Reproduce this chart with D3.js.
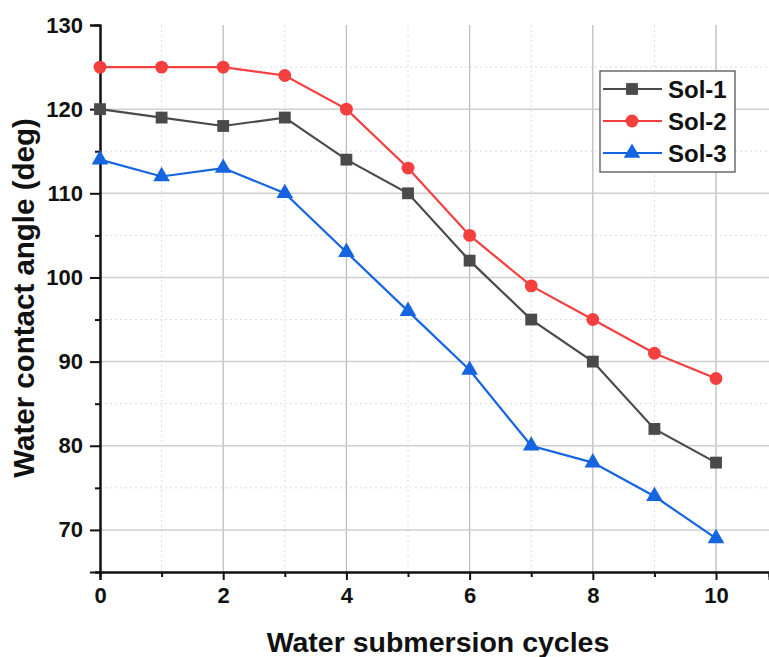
<!DOCTYPE html>
<html>
<head>
<meta charset="utf-8">
<script src="https://cdn.jsdelivr.net/npm/d3@7"></script>
<style>
  body { margin: 0; background: #fff; }
  #graph { width: 769px; height: 657px; }
</style>
</head>
<body>
<div id="graph"></div>
<script>
// data
const cycles = [0, 1, 2, 3, 4, 5, 6, 7, 8, 9, 10]
const sol1 = [120, 119, 118, 119, 114, 110, 102, 95, 90, 82, 78]
const sol2 = [125, 125, 125, 124, 120, 113, 105, 99, 95, 91, 88]
const sol3 = [114, 112, 113, 110, 103, 96, 89, 80, 78, 74, 69]
const seriesNames = ["Sol-1", "Sol-2", "Sol-3"]
const xTicks = [0, 2, 4, 6, 8, 10]
const yTicks = [70, 80, 90, 100, 110, 120, 130]

const width = 769, height = 657
const padLeft = 100, padRight = 769, padTop = 25, padBottom = 572
const fontFamily = '"Liberation Sans", Arial, sans-serif'

const svg = d3.select('#graph').append('svg')
  .attr('width', width).attr('height', height)

const xScale = d3.scaleLinear().domain([0, 10.86]).range([padLeft, padRight])
const yScale = d3.scaleLinear().domain([65, 130]).range([padBottom, padTop])

// minor grid (dotted)
const minorX = d3.range(1, 11, 2)
const minorY = d3.range(75, 130, 10)
svg.append('g').selectAll('line').data(minorX).enter().append('line')
  .attr('x1', d => xScale(d)).attr('x2', d => xScale(d))
  .attr('y1', padTop).attr('y2', padBottom)
  .attr('stroke', '#dcdcdc').attr('stroke-width', 1).attr('stroke-dasharray', '2,3')
svg.append('g').selectAll('line').data(minorY).enter().append('line')
  .attr('y1', d => yScale(d)).attr('y2', d => yScale(d))
  .attr('x1', padLeft).attr('x2', padRight)
  .attr('stroke', '#dcdcdc').attr('stroke-width', 1).attr('stroke-dasharray', '2,3')

// major grid
svg.append('g').selectAll('line').data(xTicks.slice(1)).enter().append('line')
  .attr('x1', d => xScale(d)).attr('x2', d => xScale(d))
  .attr('y1', padTop).attr('y2', padBottom)
  .attr('stroke', '#bdbdbd').attr('stroke-width', 1.3)
svg.append('g').selectAll('line').data(yTicks.slice(0, -1)).enter().append('line')
  .attr('y1', d => yScale(d)).attr('y2', d => yScale(d))
  .attr('x1', padLeft).attr('x2', padRight)
  .attr('stroke', '#cfcfcf').attr('stroke-width', 1.5)

// axes
const xAxis = d3.axisBottom(xScale).tickValues(xTicks).tickSize(8).tickPadding(7).tickFormat(d3.format('d'))
const xMinor = d3.axisBottom(xScale).tickValues(minorX).tickSize(5).tickFormat('')
const yAxis = d3.axisLeft(yScale).tickValues(yTicks).tickSize(10).tickPadding(7).tickFormat(d3.format('d'))
const yMinor = d3.axisLeft(yScale).tickValues(d3.range(65, 130, 10)).tickSize(5).tickFormat('')

function styleAxis(g) {
  g.attr('font-family', fontFamily).attr('font-size', 22).attr('font-weight', 'bold')
  g.select('.domain').attr('stroke', '#111').attr('stroke-width', 2)
  g.selectAll('.tick line').attr('stroke', '#111').attr('stroke-width', 2)
  g.selectAll('.tick text').attr('fill', '#111')
}

svg.append('g').attr('transform', `translate(0,${padBottom})`).call(xMinor).call(styleAxis)
svg.append('g').attr('transform', `translate(0,${padBottom})`).call(xAxis).call(styleAxis)
svg.append('g').attr('transform', `translate(${padLeft},0)`).call(yMinor).call(styleAxis)
svg.append('g').attr('transform', `translate(${padLeft},0)`).call(yAxis).call(styleAxis)

// series
const series = [
  { name: seriesNames[0], values: sol1, color: '#4a4a4a', symbol: d3.symbolSquare, size: 140 },
  { name: seriesNames[1], values: sol2, color: '#f43f3f', symbol: d3.symbolCircle, size: 130 },
  { name: seriesNames[2], values: sol3, color: '#1565e0', symbol: d3.symbolTriangle, size: 120 }
]

const line = d3.line().x(d => xScale(d[0])).y(d => yScale(d[1]))

series.forEach(s => {
  const pts = cycles.map((c, i) => [c, s.values[i]])
  svg.append('path').datum(pts)
    .attr('d', line).attr('fill', 'none')
    .attr('stroke', s.color).attr('stroke-width', 2.2)
  svg.append('g').selectAll('path').data(pts).enter().append('path')
    .attr('d', d3.symbol().type(s.symbol).size(s.size))
    .attr('transform', d => `translate(${xScale(d[0])},${yScale(d[1])})`)
    .attr('fill', s.color)
})

// legend
const legend = svg.append('g').attr('transform', 'translate(600,71)')
legend.append('rect').attr('width', 135).attr('height', 101)
  .attr('fill', '#fff').attr('stroke', '#555').attr('stroke-width', 1.3)
series.forEach((s, i) => {
  const y = 18 + i * 32
  legend.append('line').attr('x1', 3).attr('x2', 62).attr('y1', y).attr('y2', y)
    .attr('stroke', s.color).attr('stroke-width', 2.2)
  legend.append('path').attr('d', d3.symbol().type(s.symbol).size(s.size))
    .attr('transform', `translate(32,${y})`).attr('fill', s.color)
  legend.append('text').attr('x', 68).attr('y', y + 9)
    .attr('font-family', fontFamily).attr('font-weight', 'bold').attr('fill', '#111')
    .attr('font-size', 24).text(s.name)
})

// axis titles
svg.append('text')
  .attr('font-family', fontFamily).attr('font-weight', 'bold').attr('fill', '#111')
  .attr('text-anchor', 'middle').attr('font-size', 28.5)
  .attr('x', 438).attr('y', 652)
  .text('Water submersion cycles')

svg.append('text')
  .attr('font-family', fontFamily).attr('font-weight', 'bold').attr('fill', '#111')
  .attr('text-anchor', 'middle').attr('font-size', 29.5)
  .attr('transform', `translate(34,298) rotate(-90)`)
  .text('Water contact angle (deg)')
</script>
</body>
</html>
